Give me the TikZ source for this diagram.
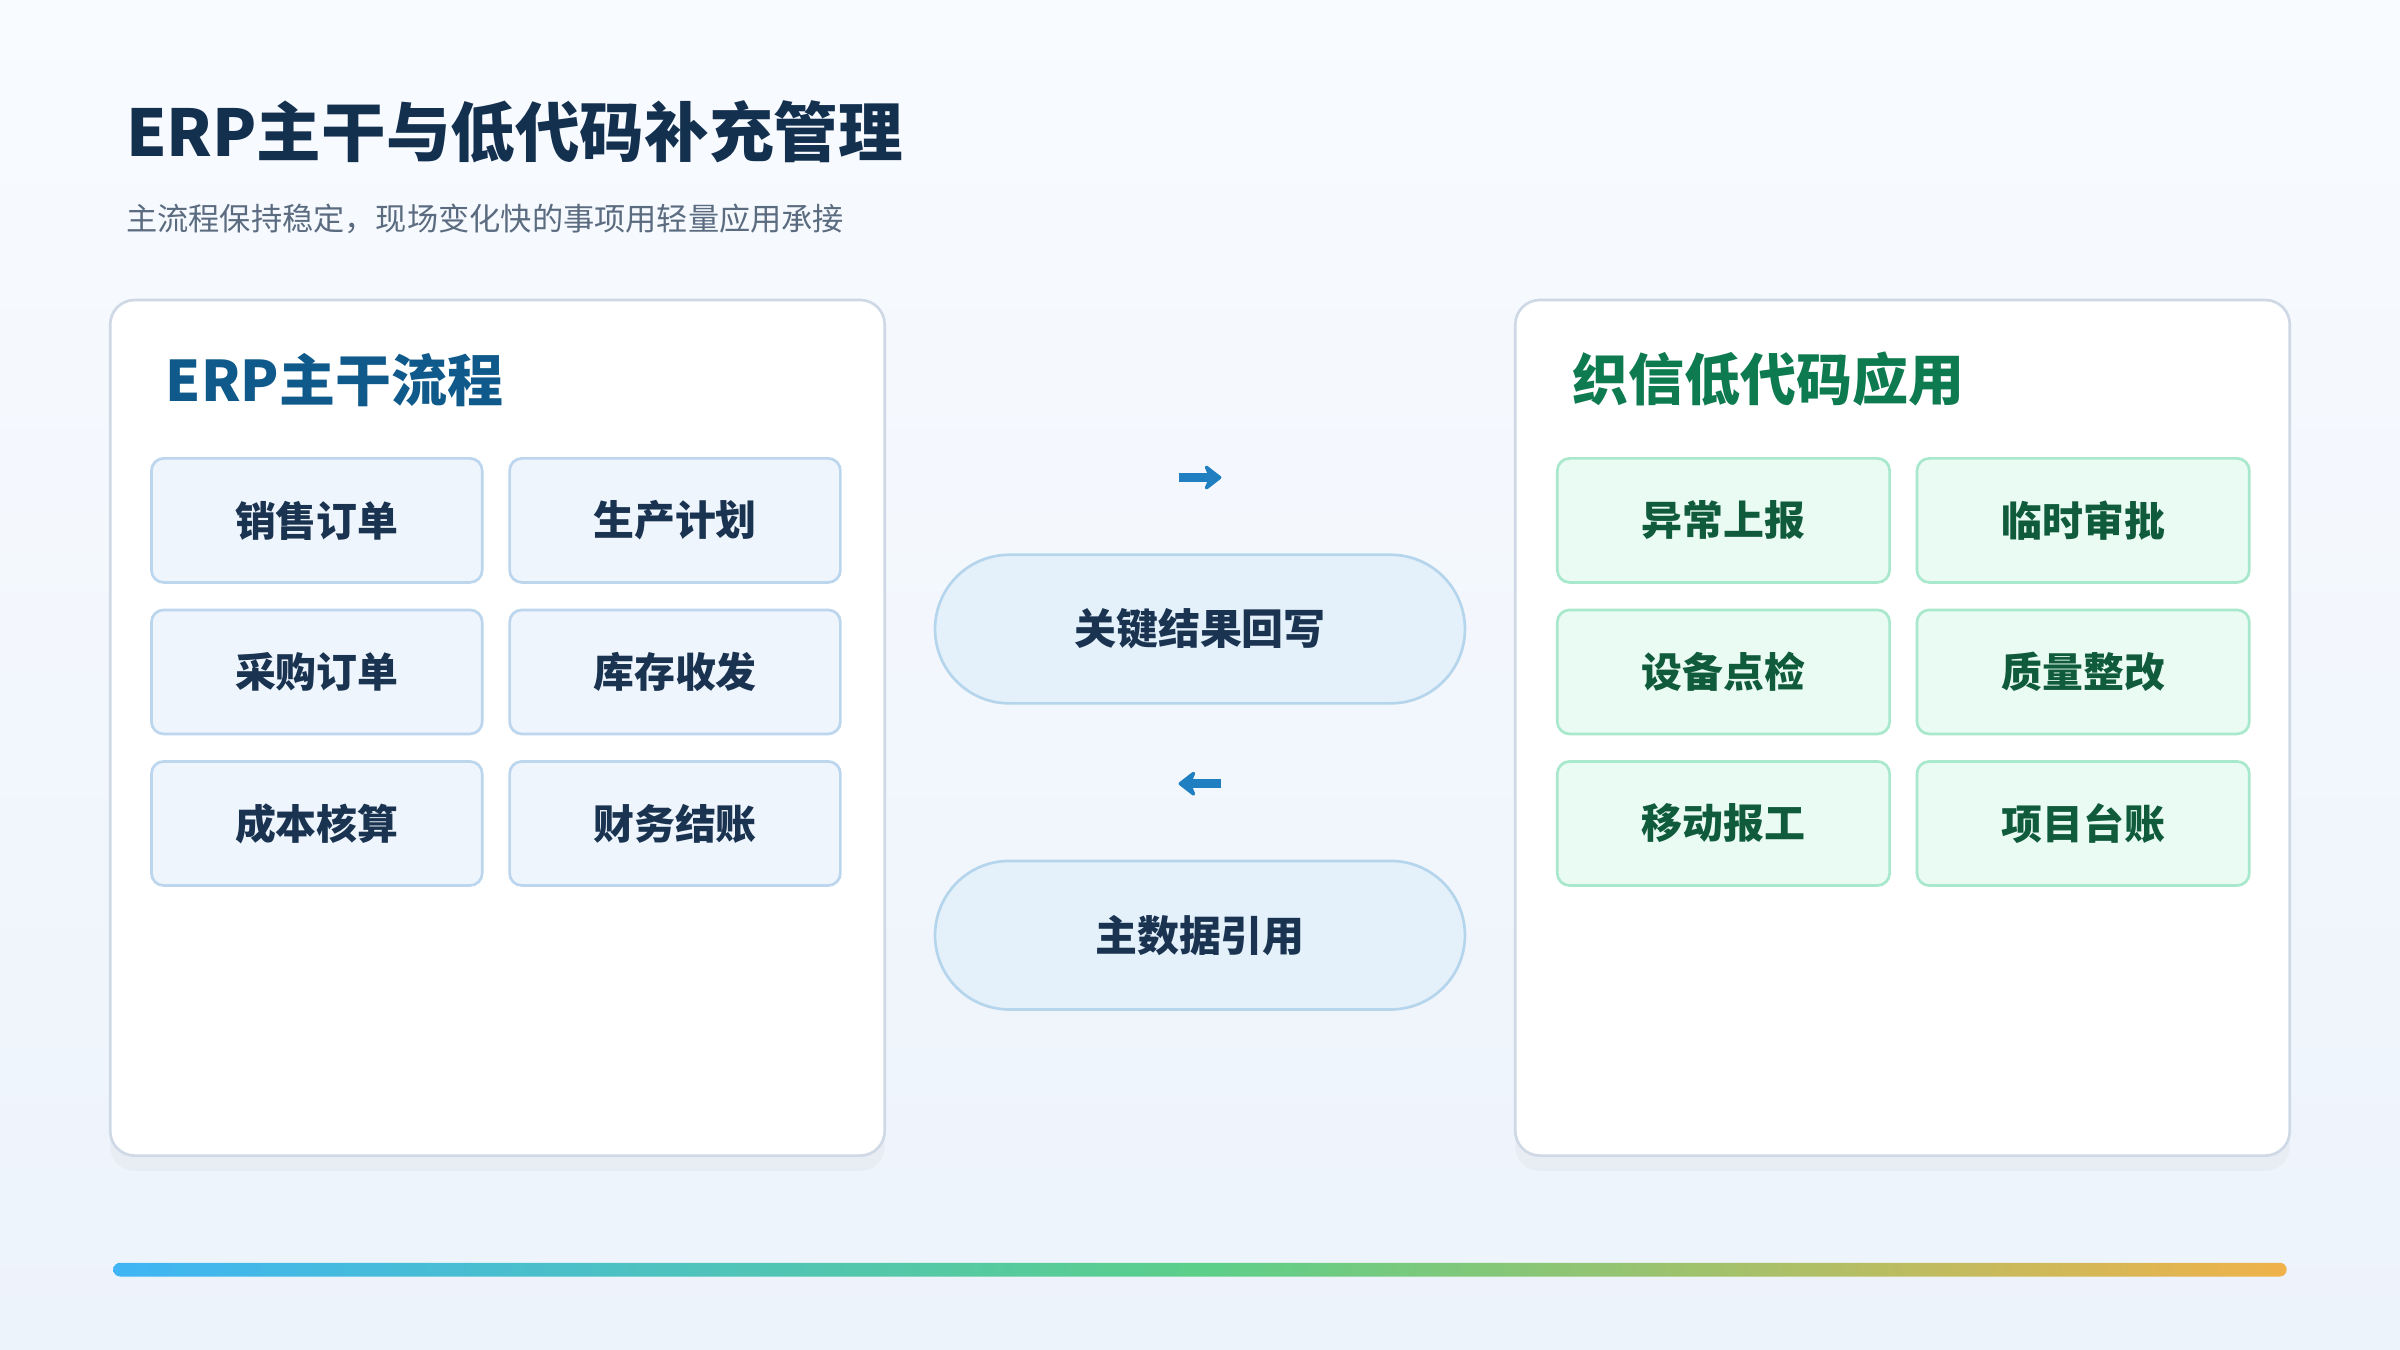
\documentclass[tikz,border=0pt]{standalone}
\usepackage{fontspec}
\setmainfont{Noto Sans CJK SC}
\usetikzlibrary{shadows,arrows.meta}
\definecolor{navy}{HTML}{14304F}
\definecolor{sub}{HTML}{5B6B80}
\definecolor{blueh}{HTML}{0F5A8A}
\definecolor{greenh}{HTML}{0E7A50}
\definecolor{bfill}{HTML}{EEF5FD}
\definecolor{bline}{HTML}{BCD6EE}
\definecolor{gfill}{HTML}{EAFBF3}
\definecolor{gline}{HTML}{A8E8CC}
\definecolor{pfill}{HTML}{E4F1FB}
\definecolor{pline}{HTML}{B5D5EC}
\definecolor{arr}{HTML}{1F7FC0}
\definecolor{txt}{HTML}{1A3350}
\definecolor{gtxt}{HTML}{0F5B3C}
\definecolor{panelline}{HTML}{CFD9E6}
\definecolor{bgtop}{HTML}{F8FBFF}
\definecolor{bgbot}{HTML}{EDF3FB}
\definecolor{gbl}{HTML}{3FB5F5}
\definecolor{gbm}{HTML}{5CCF8A}
\definecolor{gbr}{HTML}{F0B24A}
\begin{document}
\begin{tikzpicture}[x=0.01cm,y=-0.01cm,
 panel/.style={draw=panelline,fill=white,rounded corners=0.16cm,line width=0.5pt,drop shadow={opacity=0.06,shadow xshift=0cm,shadow yshift=-0.1cm}},
 bbox/.style={draw=bline,fill=bfill,rounded corners=0.08cm,minimum width=2.16cm,minimum height=0.81cm,font=\fontsize{7.6pt}{9pt}\selectfont\bfseries,text=txt,line width=0.5pt},
 gbox/.style={draw=gline,fill=gfill,rounded corners=0.08cm,minimum width=2.17cm,minimum height=0.81cm,font=\fontsize{7.6pt}{9pt}\selectfont\bfseries,text=gtxt,line width=0.5pt},
 pill/.style={draw=pline,fill=pfill,rounded corners=0.485cm,minimum width=3.46cm,minimum height=0.97cm,font=\fontsize{7.8pt}{9pt}\selectfont\bfseries,text=txt,line width=0.5pt},
 head/.style={anchor=west,font=\fontsize{10.4pt}{12pt}\selectfont\bfseries},
 ar/.style={draw=arr,line width=1.6pt,-{Stealth[length=0.13cm,width=0.2cm,round]}}]
\useasboundingbox (0,0) rectangle (1568,882);
\shade[top color=bgtop,bottom color=bgbot] (0,0) rectangle (1568,882);
\node[anchor=west,font=\fontsize{12pt}{14pt}\selectfont\bfseries,text=navy] (title) at (70,86) {ERP主干与低代码补充管理};
\node[anchor=west,font=\fontsize{5.8pt}{7pt}\selectfont,text=sub] (subt) at (70,143) {主流程保持稳定，现场变化快的事项用轻量应用承接};
\draw[panel] (72,196) rectangle (578,755);
\draw[panel] (990,196) rectangle (1496,755);
\node[head,text=blueh] (lh) at (96,248) {ERP主干流程};
\node[head,text=greenh] (rh) at (1015,248) {织信低代码应用};
\node[bbox] (a1) at (207,340) {销售订单};
\node[bbox] (a2) at (441,340) {生产计划};
\node[bbox] (a3) at (207,439) {采购订单};
\node[bbox] (a4) at (441,439) {库存收发};
\node[bbox] (a5) at (207,538) {成本核算};
\node[bbox] (a6) at (441,538) {财务结账};
\node[gbox] (b1) at (1126,340) {异常上报};
\node[gbox] (b2) at (1361,340) {临时审批};
\node[gbox] (b3) at (1126,439) {设备点检};
\node[gbox] (b4) at (1361,439) {质量整改};
\node[gbox] (b5) at (1126,538) {移动报工};
\node[gbox] (b6) at (1361,538) {项目台账};
\node[pill] (p1) at (784,411) {关键结果回写};
\node[pill] (p2) at (784,611) {主数据引用};
\coordinate (r1) at (770,312); \coordinate (r2) at (798,312);
\coordinate (l1) at (798,512); \coordinate (l2) at (770,512);
\draw[ar] (r1) -- (r2);
\draw[ar] (l1) -- (l2);
\shade[left color=gbl,right color=gbr,middle color=gbm,rounded corners=0.045cm] (74,825) rectangle (1494,834);
\end{tikzpicture}
\end{document}
